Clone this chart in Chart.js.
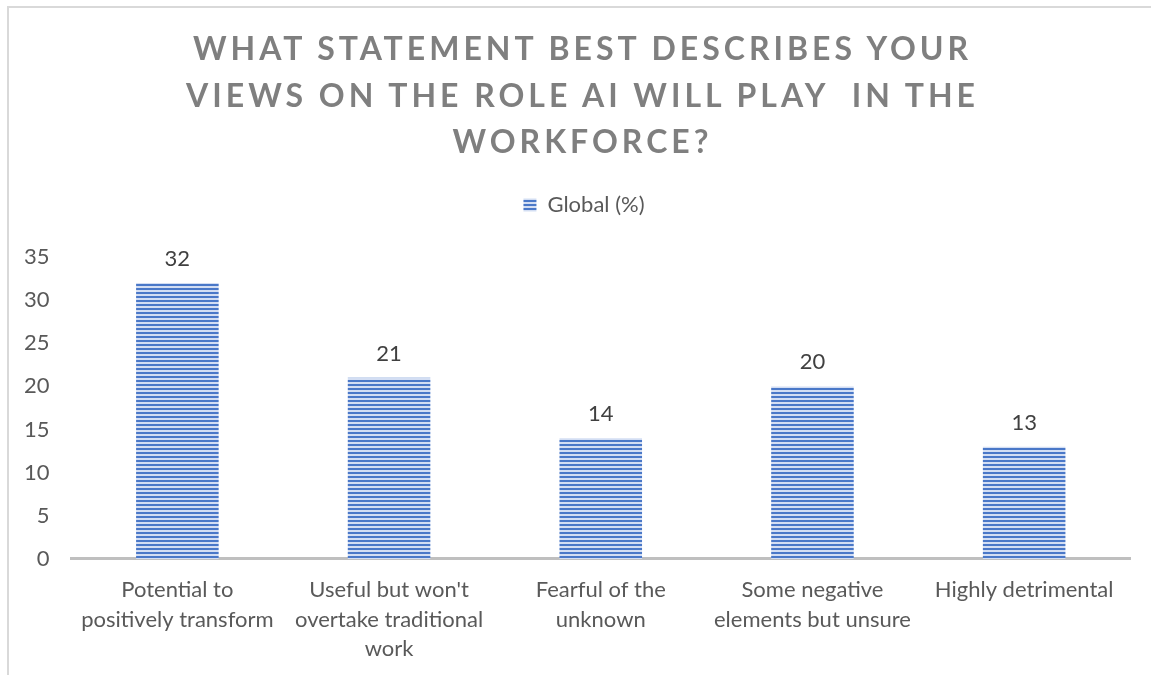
<!DOCTYPE html>
<html>
<head>
<meta charset="utf-8">
<script src="https://cdn.jsdelivr.net/npm/chart.js@4"></script>
<style>
html,body{margin:0;padding:0;background:#fff}
#wrap{position:relative;width:1151px;height:675px;overflow:hidden}
#frame{position:absolute;left:7px;top:6px;width:1160px;height:700px;border-left:2px solid #d9d9d9;border-top:2px solid #d9d9d9;box-sizing:border-box}
#title{position:absolute;left:0;top:25px;width:1165px;text-align:center;font-family:Lato,"Open Sans",sans-serif;font-weight:bold;font-size:32px;line-height:46.5px;letter-spacing:4px;color:#7f7f7f;white-space:pre}
canvas{position:absolute;left:0;top:0}
</style>
</head>
<body>
<div id="wrap">
<div id="frame"></div>
<canvas id="chart" width="1151" height="675"></canvas>
<div id="title">WHAT STATEMENT BEST DESCRIBES YOUR
VIEWS ON THE ROLE AI WILL PLAY  IN THE
WORKFORCE?</div>
</div>
<script>
const categories=[
["Potential to","positively transform"],
["Useful but won't","overtake traditional","work"],
["Fearful of the","unknown"],
["Some negative","elements but unsure"],
["Highly detrimental"]
]
const seriesName="Global (%)"
const globalPct=[32,21,14,20,13]
const yTicks=[0,5,10,15,20,25,30,35]

const FONT="Lato, 'Open Sans', sans-serif"
const TEXT="#595959"

// horizontal stripe fill for the bars
function stripes(){
const c=document.createElement("canvas")
c.width=4;c.height=4
const g=c.getContext("2d")
g.fillStyle="#d3def3"
g.fillRect(0,0,4,4)
g.fillStyle="#4a78c8"
g.fillRect(0,0,4,2)
return g.createPattern(c,"repeat")
}

// extra room under the legend, and nudge it a bit right
const legendGap={
id:"legendGap",
beforeInit(chart){
const lg=chart.legend
const fit=lg.fit
lg.fit=function(){
fit.call(lg)
lg.height+=31
}
const draw=lg.draw
lg.draw=function(){
const ctx=chart.ctx
ctx.save()
ctx.translate(18,0)
draw.call(lg)
ctx.restore()
}
}
}

// value labels above bars
const valueLabels={
id:"valueLabels",
afterDatasetsDraw(chart){
const ctx=chart.ctx
ctx.save()
ctx.font="22px "+FONT
ctx.fillStyle="#404040"
ctx.textAlign="center"
ctx.textBaseline="middle"
chart.getDatasetMeta(0).data.forEach((bar,i)=>{
ctx.fillText(globalPct[i],bar.x,bar.y-24)
})
ctx.restore()
}
}

new Chart(document.getElementById("chart"),{
type:"bar",
data:{
labels:categories,
datasets:[{
label:seriesName,
data:globalPct,
backgroundColor:stripes(),
borderWidth:0,
barPercentage:0.39,
categoryPercentage:1
}]
},
options:{
responsive:false,
animation:false,
layout:{padding:{top:184,left:2,right:21,bottom:-5}},
plugins:{
title:{display:false},
tooltip:{enabled:false},
legend:{
display:true,
position:"top",
labels:{
boxWidth:13,
boxHeight:13,
color:TEXT,
font:{family:FONT,size:22},
padding:10
}
}
},
scales:{
x:{
grid:{display:false,drawTicks:false},
border:{display:true,color:"#bfbfbf",width:3},
ticks:{
color:TEXT,
font:{family:FONT,size:22,lineHeight:1.32},
padding:17,
maxRotation:0,
autoSkip:false
}
},
y:{
min:0,
max:35,
afterBuildTicks(axis){axis.ticks=yTicks.map(v=>({value:v}))},
grid:{display:false,drawTicks:false},
border:{display:false},
ticks:{
color:TEXT,
font:{family:FONT,size:22},
padding:22
}
}
}
},
plugins:[legendGap,valueLabels]
})
</script>
</body>
</html>
